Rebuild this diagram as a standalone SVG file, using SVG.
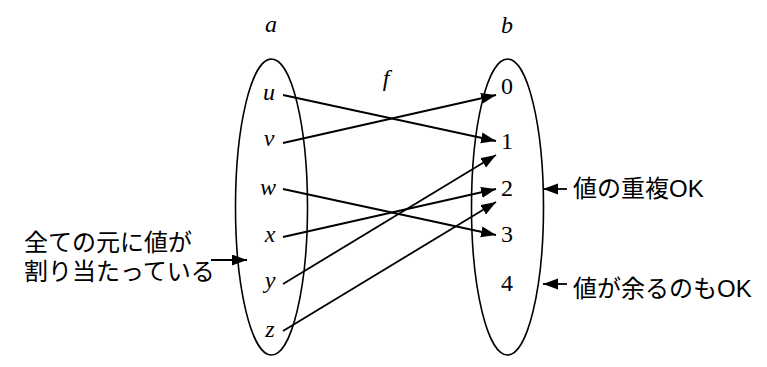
<svg xmlns="http://www.w3.org/2000/svg" width="767" height="367" viewBox="0 0 767 367">
<style>
.set{fill:none;stroke:#000;stroke-width:1.6}
.ln{stroke:#000;stroke-width:1.8;fill:none;marker-end:url(#ah)}
.it{font-family:"Liberation Serif",serif;font-style:italic;font-size:24px;fill:#000;text-anchor:middle}
.num{font-family:"Liberation Serif",serif;font-size:24px;fill:#000;text-anchor:middle}
.jp{font-family:"Liberation Sans","Noto Sans CJK JP",sans-serif;font-size:24px;fill:#000}
</style>
<defs>
<marker id="ah" markerUnits="userSpaceOnUse" markerWidth="18" markerHeight="14" refX="15" refY="5.5" orient="auto">
<path d="M0,0 L15,5.5 L0,11 Z" fill="#000"/>
</marker>
</defs>
<rect width="767" height="367" fill="#fff"/>
<g id="setA">
<ellipse class="set" cx="271.5" cy="207" rx="36" ry="148"/>
<text class="it" x="271" y="32">a</text>
</g>
<g id="setB">
<ellipse class="set" cx="507.5" cy="207" rx="36" ry="148"/>
<text class="it" x="507" y="33">b</text>
</g>
<g id="label-f"><text class="it" x="386" y="86">f</text></g>
<g id="a-u"><text class="it" x="269" y="100">u</text></g>
<g id="a-v"><text class="it" x="269" y="146">v</text></g>
<g id="a-w"><text class="it" x="268" y="195">w</text></g>
<g id="a-x"><text class="it" x="270" y="242">x</text></g>
<g id="a-y"><text class="it" x="270" y="288">y</text></g>
<g id="a-z"><text class="it" x="270" y="337">z</text></g>
<g id="b-0"><text class="num" x="507" y="94">0</text></g>
<g id="b-1"><text class="num" x="507" y="149">1</text></g>
<g id="b-2"><text class="num" x="507" y="196">2</text></g>
<g id="b-3"><text class="num" x="507" y="242">3</text></g>
<g id="b-4"><text class="num" x="507" y="291">4</text></g>
<g id="note-left">
<text class="jp" x="24" y="251">全ての元に値が</text>
<text class="jp" x="24" y="280">割り当たっている</text>
</g>
<g id="note-dup"><text class="jp" x="573" y="197">値の重複OK</text></g>
<g id="note-rest"><text class="jp" x="573" y="297">値が余るのもOK</text></g>
<g id="connectors">
<line class="ln" x1="283" y1="95" x2="496" y2="141"/>
<line class="ln" x1="283" y1="143" x2="496" y2="95"/>
<line class="ln" x1="283" y1="189" x2="496" y2="235"/>
<line class="ln" x1="283" y1="237" x2="496" y2="189"/>
<line class="ln" x1="283" y1="284" x2="496" y2="155"/>
<line class="ln" x1="283" y1="331" x2="496" y2="202"/>
<line class="ln" x1="211" y1="260" x2="247" y2="260"/>
<line class="ln" x1="567" y1="189" x2="543" y2="189"/>
<line class="ln" x1="567" y1="284" x2="543" y2="284"/>
</g>
</svg>
